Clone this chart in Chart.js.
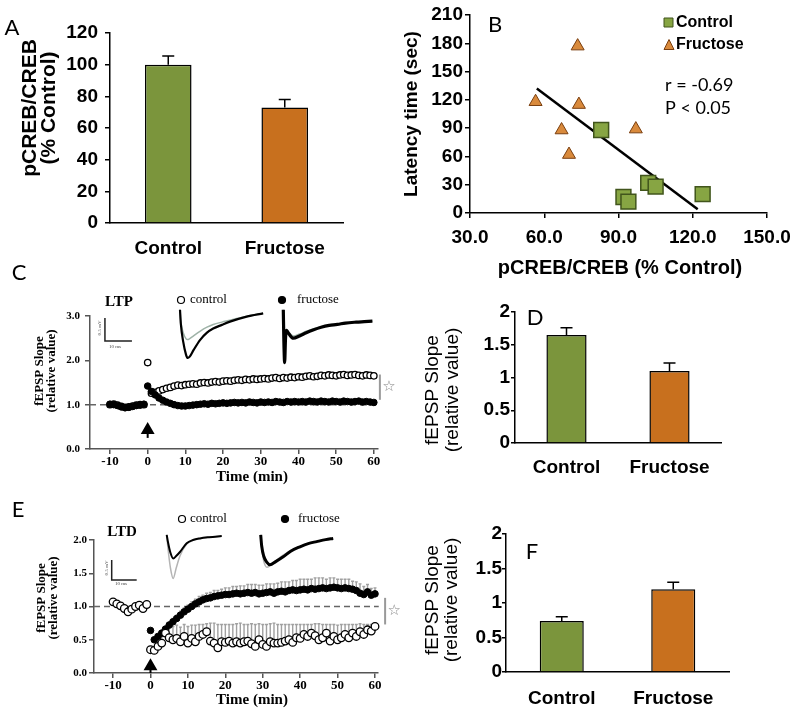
<!DOCTYPE html>
<html>
<head>
<meta charset="utf-8">
<script src="https://cdn.jsdelivr.net/npm/chart.js@4.4.1/dist/chart.umd.min.js"></script>
<style>
  html, body { margin: 0; padding: 0; background: #fff; }
  #wrap { position: relative; width: 800px; height: 721px; overflow: hidden; background: #fff; }
  #wrap canvas { position: absolute; left: 0; top: 0; }
</style>
</head>
<body>
<div id="wrap">
  <canvas id="chartA" width="800" height="721"></canvas>
  <canvas id="chartB" width="800" height="721"></canvas>
  <canvas id="chartC" width="800" height="721"></canvas>
  <canvas id="chartD" width="800" height="721"></canvas>
  <canvas id="chartE" width="800" height="721"></canvas>
  <canvas id="chartF" width="800" height="721"></canvas>
  <canvas id="insetC1" width="800" height="721"></canvas>
  <canvas id="insetC2" width="800" height="721"></canvas>
  <canvas id="insetE1" width="800" height="721"></canvas>
  <canvas id="insetE2" width="800" height="721"></canvas>
</div>
<script>
// --- Data ---
const groups = ['Control', 'Fructose'];

// A: pCREB/CREB (% control)
const pcrebMean = [100, 73];
const pcrebSem = [5.5, 5];

// B: latency vs pCREB
const ctrlPcreb = [83, 92, 94, 102, 105, 124];
const ctrlLatency = [88, 17, 12, 32, 28, 20];
const frucPcreb = [56.5, 73.5, 74, 67, 70, 97];
const frucLatency = [118, 177, 115, 88, 62, 89];
const fitPcreb = [57, 122];
const fitLatency = [132, 4];

// D: LTP summary, F: LTD summary
const ltpMean = [1.65, 1.10];
const ltpSem = [0.11, 0.12];
const ltdMean = [0.74, 1.20];
const ltdSem = [0.06, 0.10];

// C / E: time course (min)
const timeMin = [-10, -9, -8, -7, -6, -5, -4, -3, -2, -1,
  0, 1, 2, 3, 4, 5, 6, 7, 8, 9, 10,
  11, 12, 13, 14, 15, 16, 17, 18, 19, 20,
  21, 22, 23, 24, 25, 26, 27, 28, 29, 30,
  31, 32, 33, 34, 35, 36, 37, 38, 39, 40,
  41, 42, 43, 44, 45, 46, 47, 48, 49, 50,
  51, 52, 53, 54, 55, 56, 57, 58, 59, 60];
const timeTicks = [-10, 0, 10, 20, 30, 40, 50, 60];

const ltpControl = [1.00, 1.01, 0.99, 0.96, 0.94, 0.95, 0.97, 0.99, 1.00, 1.00,
  1.95,
  1.26, 1.28, 1.31, 1.34, 1.37, 1.39, 1.42, 1.44, 1.43, 1.45,
  1.46, 1.47, 1.46, 1.49, 1.50, 1.49, 1.51, 1.52, 1.51, 1.53,
  1.54, 1.53, 1.55, 1.56, 1.55, 1.57, 1.56, 1.58, 1.57, 1.58,
  1.59, 1.58, 1.60, 1.61, 1.59, 1.61, 1.60, 1.62, 1.61, 1.63,
  1.62, 1.64, 1.65, 1.63, 1.64, 1.66, 1.65, 1.67, 1.66, 1.65,
  1.67, 1.68, 1.66, 1.67, 1.68, 1.66, 1.65, 1.67, 1.66, 1.65];
const ltpFructose = [1.01, 1.00, 0.98, 0.95, 0.93, 0.94, 0.96, 0.98, 0.99, 1.01,
  1.42,
  1.30, 1.22, 1.15, 1.10, 1.06, 1.03, 1.00, 0.98, 0.97, 0.97,
  0.98, 0.99, 1.00, 1.01, 1.02, 1.01, 1.03, 1.02, 1.03, 1.04,
  1.03, 1.04, 1.05, 1.04, 1.05, 1.04, 1.06, 1.05, 1.04, 1.06,
  1.05, 1.06, 1.05, 1.07, 1.06, 1.05, 1.07, 1.06, 1.07, 1.06,
  1.07, 1.06, 1.08, 1.07, 1.06, 1.08, 1.07, 1.06, 1.08, 1.07,
  1.06, 1.08, 1.07, 1.06, 1.07, 1.08, 1.06, 1.07, 1.06, 1.05];

const ltdControl = [1.07, 1.04, 1.01, 0.97, 0.92, 0.96, 1.00, 1.02, 0.97, 1.03,
  0.35,
  0.34, 0.40, 0.45, 0.60, 0.53, 0.50, 0.52, 0.47, 0.55, 0.45,
  0.52, 0.47, 0.55, 0.58, 0.62, 0.48, 0.45, 0.38, 0.47, 0.46,
  0.48, 0.45, 0.47, 0.45, 0.47, 0.48, 0.44, 0.40, 0.50, 0.43,
  0.40, 0.47, 0.45, 0.45, 0.46, 0.48, 0.50, 0.46, 0.53, 0.52,
  0.58, 0.55, 0.60, 0.56, 0.50, 0.53, 0.60, 0.48, 0.55, 0.50,
  0.53, 0.58, 0.53, 0.60, 0.55, 0.62, 0.58, 0.65, 0.63, 0.70];
const ltdControlSem = [null, null, null, null, null, null, null, null, null, null,
  0.04,
  0.05, 0.08, 0.10, 0.10, 0.15, 0.20, 0.20, 0.22, 0.18, 0.25,
  0.20, 0.25, 0.18, 0.15, 0.12, 0.27, 0.30, 0.35, 0.26, 0.27,
  0.25, 0.28, 0.27, 0.30, 0.26, 0.25, 0.30, 0.33, 0.24, 0.30,
  0.33, 0.27, 0.30, 0.28, 0.27, 0.25, 0.23, 0.27, 0.20, 0.21,
  0.15, 0.18, 0.13, 0.18, 0.24, 0.20, 0.13, 0.25, 0.18, 0.22,
  0.20, 0.15, 0.20, 0.13, 0.18, 0.12, 0.15, 0.08, 0.10, 0.05];
const ltdFructose = [null, null, null, null, null, null, null, null, null, null,
  0.64,
  0.50, 0.55, 0.60, 0.66, 0.72, 0.77, 0.82, 0.87, 0.92, 0.96,
  1.00, 1.04, 1.07, 1.10, 1.12, 1.13, 1.15, 1.16, 1.17, 1.18,
  1.18, 1.19, 1.20, 1.19, 1.20, 1.21, 1.20, 1.21, 1.19, 1.20,
  1.21, 1.22, 1.20, 1.22, 1.23, 1.22, 1.24, 1.25, 1.24, 1.25,
  1.26, 1.25, 1.27, 1.26, 1.27, 1.28, 1.27, 1.28, 1.29, 1.28,
  1.27, 1.28, 1.27, 1.26, 1.24, 1.20, 1.18, 1.22, 1.17, 1.19];
const ltdFructoseSem = [null, null, null, null, null, null, null, null, null, null,
  0.03,
  0.03, 0.03, 0.04, 0.04, 0.05, 0.05, 0.05, 0.06, 0.06, 0.06,
  0.07, 0.07, 0.08, 0.07, 0.08, 0.08, 0.09, 0.08, 0.09, 0.10,
  0.10, 0.11, 0.10, 0.12, 0.11, 0.12, 0.13, 0.12, 0.13, 0.12,
  0.13, 0.12, 0.14, 0.13, 0.14, 0.15, 0.13, 0.14, 0.15, 0.16,
  0.15, 0.16, 0.14, 0.17, 0.16, 0.15, 0.14, 0.15, 0.14, 0.13,
  0.14, 0.13, 0.14, 0.12, 0.13, 0.14, 0.12, 0.11, 0.10, 0.09];

// stimulus arrows (min, relative value)
const ltpArrowY = [0.25, 0.43];
const ltdArrowY = [0.0, 0.1];

// sample fEPSP traces (ms, mV)
const ltpCtrlMs = [0, 0.3, 1.2, 2.2, 2.8, 3.6, 5, 7.4, 10, 12.3, 15.5, 18.5, 24.7, 30.8];
const ltpCtrlAfter = [0.05, -0.25, -0.65, -0.92, -1.0, -0.97, -0.83, -0.61, -0.45, -0.36, -0.28, -0.21, -0.10, -0.03];
const ltpCtrlBefore = [0.05, -0.2, -0.45, -0.58, -0.6, -0.58, -0.52, -0.42, -0.33, -0.27, -0.22, -0.18, -0.09, -0.03];
const ltpFrucMs = [0, 0.2, 0.5, 0.8, 1.2, 2, 3.7, 6, 8.5, 11, 14, 17, 20, 23, 27, 30, 33];
const ltpFrucAfter = [0.05, -0.6, -1.1, -0.6, -0.4, -0.47, -0.57, -0.52, -0.45, -0.39, -0.33, -0.29, -0.27, -0.24, -0.22, -0.21, -0.20];
const ltpFrucBefore = [0.05, -0.5, -1.0, -0.55, -0.38, -0.44, -0.52, -0.48, -0.42, -0.37, -0.32, -0.28, -0.26, -0.24, -0.22, -0.21, -0.20];
const ltdCtrlMs = [0, 0.5, 1.5, 2.6, 3.8, 5.3, 8, 10.5, 13.3, 17, 22];
const ltdCtrlAfter = [0.03, -0.15, -0.42, -0.56, -0.5, -0.4, -0.18, -0.1, -0.06, -0.03, 0];
const ltdCtrlBefore = [0.03, -0.3, -0.8, -1.06, -0.8, -0.5, -0.2, -0.11, -0.06, -0.03, 0];
const ltdFrucMs = [0, 0.4, 1.2, 2.5, 3.7, 6, 9, 12, 15.7, 19, 22.4, 26, 29];
const ltdFrucAfter = [0.03, -0.25, -0.5, -0.66, -0.72, -0.64, -0.52, -0.38, -0.27, -0.19, -0.14, -0.09, -0.06];
const ltdFrucBefore = [0.03, -0.3, -0.62, -0.78, -0.74, -0.62, -0.48, -0.36, -0.26, -0.19, -0.14, -0.09, -0.06];

// --- Styles ---
const green = '#7b953c';
const orange = '#c8701e';
const sans = "'Liberation Sans', Arial, sans-serif";
const serif = "'Liberation Serif', 'Times New Roman', serif";

Chart.defaults.font.family = sans;
Chart.defaults.color = '#000';
Chart.defaults.animation = false;
Chart.defaults.responsive = false;
Chart.defaults.events = [];
Chart.defaults.plugins.legend.display = false;
Chart.defaults.plugins.tooltip.enabled = false;

// plot box in page pixels; the y axis gets yW px on its left, the x axis xH px below
function area(l, t, r, b, yW, xH) {
  return { padding: { left: l - yW, top: t, right: 800 - r, bottom: 721 - b - xH } };
}
const fixW = w => s => { s.width = w; };
const fixH = h => s => { s.height = h; };
const toPts = (xs, ys) => xs.map((x, i) => ({ x: x, y: ys[i] }));

// --- Plugins ---
const notesPlugin = {
  id: 'notes',
  afterDraw(chart, args, opts) {
    const ctx = chart.ctx;
    (opts.items || []).forEach(it => {
      ctx.save();
      ctx.translate(it.x, it.y);
      if (it.dot) {
        ctx.beginPath();
        ctx.arc(0, 0, it.dot, 0, Math.PI * 2);
        ctx.fillStyle = it.fill;
        ctx.fill();
        ctx.lineWidth = 1.2;
        ctx.strokeStyle = '#000';
        ctx.stroke();
      } else if (it.shape) {
        ctx.beginPath();
        if (it.shape === 'rect') {
          ctx.rect(-it.size / 2, -it.size / 2, it.size, it.size);
        } else {
          ctx.moveTo(0, -it.size * 0.55);
          ctx.lineTo(it.size / 2, it.size * 0.45);
          ctx.lineTo(-it.size / 2, it.size * 0.45);
          ctx.closePath();
        }
        ctx.fillStyle = it.fill;
        ctx.fill();
        ctx.lineWidth = 1;
        ctx.strokeStyle = it.stroke;
        ctx.stroke();
      } else {
        if (it.rotate) ctx.rotate(it.rotate * Math.PI / 180);
        ctx.font = it.font;
        ctx.fillStyle = it.color || '#000';
        ctx.textAlign = it.align || 'center';
        ctx.textBaseline = 'middle';
        ctx.fillText(it.text, 0, 0);
      }
      ctx.restore();
    });
  }
};

const barErrors = {
  id: 'barErrors',
  afterDatasetsDraw(chart, args, opts) {
    const ctx = chart.ctx;
    const y = chart.scales.y;
    const ds = chart.data.datasets[0];
    ctx.save();
    ctx.strokeStyle = '#000';
    ctx.lineWidth = 1.5;
    chart.getDatasetMeta(0).data.forEach((bar, i) => {
      const top = y.getPixelForValue(ds.data[i] + opts.sem[i]);
      ctx.beginPath();
      ctx.moveTo(bar.x, bar.y);
      ctx.lineTo(bar.x, top);
      ctx.moveTo(bar.x - 6, top);
      ctx.lineTo(bar.x + 6, top);
      ctx.stroke();
    });
    ctx.restore();
  }
};

const courseExtras = {
  id: 'courseExtras',
  beforeDatasetsDraw(chart, args, o) {
    const { ctx, chartArea } = chart;
    const x = chart.scales.x, y = chart.scales.y;
    ctx.save();
    // baseline
    const yb = y.getPixelForValue(o.baseline);
    ctx.setLineDash([6, 4]);
    ctx.strokeStyle = '#666';
    ctx.lineWidth = 1.5;
    ctx.beginPath();
    ctx.moveTo(chartArea.left, yb);
    ctx.lineTo(x.getPixelForValue(o.baselineEnd), yb);
    ctx.stroke();
    ctx.setLineDash([]);
    // SEM bars (upper side)
    ctx.strokeStyle = '#a0a0a0';
    ctx.lineWidth = 1.4;
    (o.errors || []).forEach(e => {
      e.mean.forEach((m, i) => {
        if (m == null || e.sem[i] == null) return;
        const px = x.getPixelForValue(timeMin[i]);
        const top = y.getPixelForValue(m + e.sem[i]);
        ctx.beginPath();
        ctx.moveTo(px, y.getPixelForValue(m));
        ctx.lineTo(px, top);
        ctx.moveTo(px - 1.5, top);
        ctx.lineTo(px + 1.5, top);
        ctx.stroke();
      });
    });
    ctx.restore();
  },
  afterDatasetsDraw(chart, args, o) {
    if (!o.sig) return;
    const ctx = chart.ctx;
    const x = chart.scales.x, y = chart.scales.y;
    const px = x.getPixelForValue(o.sig.t);
    const y1 = y.getPixelForValue(o.sig.from), y2 = y.getPixelForValue(o.sig.to);
    ctx.save();
    ctx.strokeStyle = '#999';
    ctx.lineWidth = 2;
    ctx.beginPath();
    ctx.moveTo(px, y1);
    ctx.lineTo(px, y2);
    ctx.stroke();
    ctx.font = "15px 'DejaVu Sans'";
    ctx.fillStyle = '#888';
    ctx.textAlign = 'center';
    ctx.textBaseline = 'middle';
    ctx.fillText('\u2606', px + 9, (y1 + y2) / 2);
    ctx.restore();
  }
};

// --- Bar panels (A, D, F) ---
function barChart(id, mean, sem, yMax, yStep, box, yW, barPct, labelPad, tickPad, tickLen, notes) {
  return new Chart(document.getElementById(id), {
    type: 'bar',
    data: {
      labels: groups,
      datasets: [{
        data: mean,
        backgroundColor: [green, orange],
        borderColor: '#000',
        borderWidth: 1.5,
        barPercentage: barPct,
        categoryPercentage: 1
      }]
    },
    options: {
      layout: box,
      scales: {
        x: {
          afterFit: fixH(44),
          grid: { display: false },
          border: { color: '#000', width: 1.5 },
          ticks: { font: { size: 19, weight: 'bold' }, padding: labelPad }
        },
        y: {
          min: 0, max: yMax,
          afterFit: fixW(yW),
          ticks: { stepSize: yStep, callback: v => String(v), font: { size: 19, weight: 'bold' }, padding: tickPad },
          grid: { drawOnChartArea: false, tickLength: tickLen, color: '#000', lineWidth: 1.5 },
          border: { color: '#000', width: 1.5 }
        }
      },
      plugins: { barErrors: { sem: sem }, notes: { items: notes } }
    },
    plugins: [barErrors, notesPlugin]
  });
}

barChart('chartA', pcrebMean, pcrebSem, 120, 20, area(110, 33, 343, 223, 60, 44), 60, 0.4, 6, 7, 5, [
  { text: 'A', x: 12, y: 28, font: "22px Lato" },
  { text: 'pCREB/CREB', x: 30, y: 108, rotate: -90, font: "bold 21px " + sans },
  { text: '(% Control)', x: 49, y: 108, rotate: -90, font: "bold 21px " + sans }
]);

barChart('chartD', ltpMean, ltpSem, 2, 0.5, area(515, 312, 721, 443, 45, 44), 45, 0.39, 5, 1, 4, [
  { text: 'D', x: 535, y: 318, font: "22px Lato" },
  { text: 'fEPSP Slope', x: 433, y: 390, rotate: -90, font: "19px " + sans },
  { text: '(relative value)', x: 453, y: 390, rotate: -90, font: "19px " + sans }
]);

barChart('chartF', ltdMean, ltdSem, 2, 0.5, area(506, 534, 729, 672, 45, 44), 45, 0.395, 7, 0, 4, [
  { text: 'F', x: 532, y: 552, font: "22px Lato" },
  { text: 'fEPSP Slope', x: 433, y: 600, rotate: -90, font: "19px " + sans },
  { text: '(relative value)', x: 452, y: 600, rotate: -90, font: "19px " + sans }
]);

// --- B: scatter with fit ---
new Chart(document.getElementById('chartB'), {
  type: 'scatter',
  data: {
    datasets: [{
      data: toPts(ctrlPcreb, ctrlLatency),
      pointStyle: 'rect', pointRadius: 10.5,
      backgroundColor: '#87a543', borderColor: '#41551c', borderWidth: 1.5
    }, {
      data: toPts(frucPcreb, frucLatency),
      pointStyle: 'triangle', pointRadius: 7.5,
      backgroundColor: '#d98a3c', borderColor: '#7a3f10', borderWidth: 1
    }, {
      data: toPts(fitPcreb, fitLatency),
      showLine: true, pointRadius: 0, borderColor: '#000', borderWidth: 2.5
    }]
  },
  options: {
    layout: area(470, 15, 767, 213, 60, 40),
    clip: false,
    scales: {
      x: {
        min: 30, max: 150,
        afterFit: fixH(40),
        ticks: { stepSize: 30, callback: v => v.toFixed(1), font: { size: 19, weight: 'bold' }, padding: 8 },
        grid: { drawOnChartArea: false, tickLength: 5, color: '#000', lineWidth: 1.5 },
        border: { color: '#000', width: 1.5 }
      },
      y: {
        min: 0, max: 210,
        afterFit: fixW(60),
        ticks: { stepSize: 30, font: { size: 19, weight: 'bold' }, padding: 2 },
        grid: { drawOnChartArea: false, tickLength: 5, color: '#000', lineWidth: 1.5 },
        border: { color: '#000', width: 1.5 }
      }
    },
    plugins: {
      notes: { items: [
        { text: 'B', x: 495, y: 25, font: "22px Lato" },
        { text: 'Latency time (sec)', x: 412, y: 114, rotate: -90, font: "bold 19px " + sans },
        { text: 'pCREB/CREB (% Control)', x: 620, y: 268, font: "bold 20px " + sans },
        { shape: 'rect', x: 668.5, y: 22.5, size: 9, fill: '#87a543', stroke: '#41551c' },
        { text: 'Control', x: 676, y: 23, align: 'left', font: "bold 16px " + sans },
        { shape: 'triangle', x: 669, y: 45, size: 10, fill: '#d98a3c', stroke: '#7a3f10' },
        { text: 'Fructose', x: 676, y: 45, align: 'left', font: "bold 16px " + sans },
        { text: 'r = -0.69', x: 665, y: 85, align: 'left', font: "18px Lato" },
        { text: 'P < 0.05', x: 665, y: 108, align: 'left', font: "18px Lato" }
      ] }
    }
  },
  plugins: [notesPlugin]
});

// --- C / E: time courses ---
function courseChart(id, box, xMin, xMax, yMax, yStep, ctrl, fruc, frucOnTop, arrowY, ctrlR, extras, notes, tickPad) {
  const ctrlSet = {
    data: toPts(timeMin, ctrl), pointRadius: ctrlR,
    backgroundColor: '#fff', borderColor: '#000', borderWidth: 1.3
  };
  const frucSet = {
    data: toPts(timeMin, fruc), pointRadius: 3.3,
    backgroundColor: '#000', borderColor: '#000', borderWidth: 1
  };
  const arrowSet = {
    data: toPts([0, 0], arrowY), showLine: true,
    pointStyle: 'triangle', pointRadius: [0, 6],
    backgroundColor: '#000', borderColor: '#000', borderWidth: 2
  };
  return new Chart(document.getElementById(id), {
    type: 'scatter',
    data: { datasets: frucOnTop ? [arrowSet, frucSet, ctrlSet] : [arrowSet, ctrlSet, frucSet] },
    options: {
      layout: box,
      clip: false,
      scales: {
        x: {
          min: xMin, max: xMax,
          afterFit: fixH(24),
          afterBuildTicks: s => { s.ticks = timeTicks.map(v => ({ value: v })); },
          ticks: { font: { family: serif, size: 13, weight: 'bold' }, padding: 0 },
          grid: { drawOnChartArea: false, tickLength: 5, color: '#555', lineWidth: 1.5 },
          border: { color: '#555', width: 1.5 }
        },
        y: {
          min: 0, max: yMax,
          afterFit: fixW(30),
          ticks: { stepSize: yStep, callback: v => v.toFixed(1), font: { family: serif, size: 11, weight: 'bold' }, padding: tickPad },
          grid: { drawOnChartArea: false, tickLength: 5, color: '#555', lineWidth: 1.5 },
          border: { color: '#555', width: 1.5 }
        }
      },
      plugins: { courseExtras: extras, notes: { items: notes } }
    },
    plugins: [courseExtras, notesPlugin]
  });
}

courseChart('chartC', area(90, 316, 378, 449, 30, 24), -15.3, 61.1, 3, 1, ltpControl, ltpFructose, true, ltpArrowY, 3.2, {
  baseline: 1.0, baselineEnd: 61, errors: [],
  sig: { t: 61.6, from: 1.68, to: 1.11 }
}, [
  { text: 'C', x: 19, y: 273, font: "22px Lato" },
  { text: 'LTP', x: 119, y: 302, font: "bold 15px " + serif },
  { dot: 3.5, x: 181, y: 300, fill: '#fff' },
  { text: 'control', x: 190, y: 300, align: 'left', font: "13px " + serif },
  { dot: 3.5, x: 282, y: 300, fill: '#000' },
  { text: 'fructose', x: 297, y: 300, align: 'left', font: "13px " + serif },
  { text: 'fEPSP Slope', x: 40, y: 371, rotate: -90, font: "bold 13px " + serif },
  { text: '(relative value)', x: 52, y: 371, rotate: -90, font: "bold 13px " + serif },
  { text: 'Time (min)', x: 252, y: 477, font: "bold 15px " + serif }
], 5);

courseChart('chartE', area(94, 540, 378, 673, 30, 24), -15.1, 60.8, 2, 0.5, ltdControl, ltdFructose, false, ltdArrowY, 3.8, {
  baseline: 1.0, baselineEnd: 61,
  errors: [{ mean: ltdControl, sem: ltdControlSem }, { mean: ltdFructose, sem: ltdFructoseSem }],
  sig: { t: 62.7, from: 1.13, to: 0.73 }
}, [
  { text: 'E', x: 18, y: 510, font: "22px Lato" },
  { text: 'LTD', x: 122, y: 532, font: "bold 15px " + serif },
  { dot: 3.5, x: 182, y: 519, fill: '#fff' },
  { text: 'control', x: 190, y: 519, align: 'left', font: "13px " + serif },
  { dot: 3.5, x: 285, y: 519, fill: '#000' },
  { text: 'fructose', x: 298, y: 519, align: 'left', font: "13px " + serif },
  { text: 'fEPSP Slope', x: 42, y: 598, rotate: -90, font: "bold 13px " + serif },
  { text: '(relative value)', x: 54, y: 598, rotate: -90, font: "bold 13px " + serif },
  { text: 'Time (min)', x: 252, y: 700, font: "bold 15px " + serif }
], 2);

// --- sample traces (insets) ---
function insetChart(id, box, xr, ms, after, before, afterWidth, beforeColor, scaleBar, notes) {
  const sets = [{
    data: toPts(ms, after), borderColor: '#000', borderWidth: afterWidth,
    pointRadius: 0, cubicInterpolationMode: 'monotone'
  }, {
    data: toPts(ms, before), borderColor: beforeColor, borderWidth: 1.5,
    pointRadius: 0, cubicInterpolationMode: 'monotone'
  }];
  if (scaleBar) {
    sets.push({
      data: toPts([scaleBar.ms0, scaleBar.ms0, scaleBar.ms0 + scaleBar.ms], [scaleBar.mv0, scaleBar.mv0 - scaleBar.mv, scaleBar.mv0 - scaleBar.mv]),
      borderColor: '#222', borderWidth: 1.5, pointRadius: 0
    });
  }
  return new Chart(document.getElementById(id), {
    type: 'line',
    data: { datasets: sets },
    options: {
      layout: box,
      clip: false,
      scales: {
        x: { type: 'linear', display: false, min: xr[0], max: xr[1] },
        y: { display: false, min: -1.15, max: 0.15 }
      },
      plugins: { notes: { items: notes || [] } }
    },
    plugins: [notesPlugin]
  });
}

insetChart('insetC1', area(99, 305.1, 266.4, 364.9, 0, 0), [-30, 32], ltpCtrlMs, ltpCtrlAfter, ltpCtrlBefore, 2.2, '#9fb3a8',
  { ms0: -27.8, mv0: -0.13, ms: 10, mv: 0.5 }, [
  { text: '0.5 mV', x: 100, y: 328, rotate: -90, font: "5px " + serif, color: '#444' },
  { text: '10 ms', x: 115, y: 347, font: "5px " + serif, color: '#444' }
]);
insetChart('insetC2', area(283.3, 305.1, 375.1, 364.9, 0, 0), [0, 34], ltpFrucMs, ltpFrucAfter, ltpFrucBefore, 3.2, '#9fb3a8', null);
insetChart('insetE1', area(106.7, 530, 226.7, 582, 0, 0), [-24, 24], ltdCtrlMs, ltdCtrlAfter, ltdCtrlBefore, 2, '#b4b4b4',
  { ms0: -22, mv0: -0.6, ms: 10, mv: 0.5 }, [
  { text: '0.5 mV', x: 107, y: 568, rotate: -90, font: "5px " + serif, color: '#444' },
  { text: '10 ms', x: 121, y: 584, font: "5px " + serif, color: '#444' }
]);
insetChart('insetE2', area(260.7, 530, 335.7, 582, 0, 0), [0, 30], ltdFrucMs, ltdFrucAfter, ltdFrucBefore, 3, '#b4b4b4', null);
</script>
</body>
</html>
